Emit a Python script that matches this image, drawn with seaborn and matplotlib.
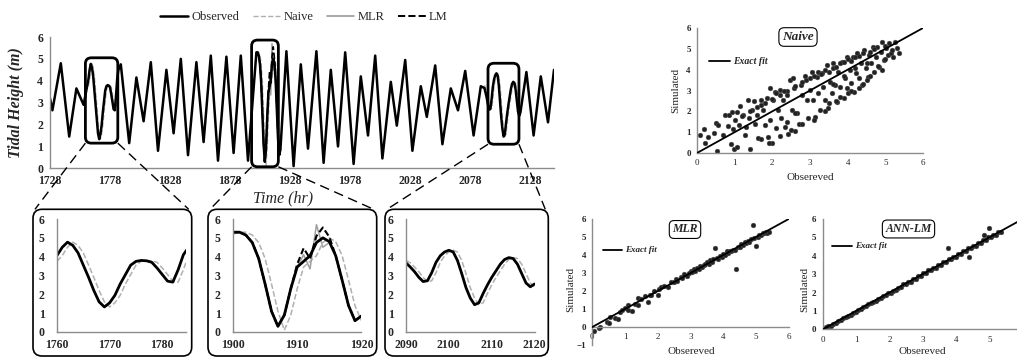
import numpy as np
import pandas as pd
import matplotlib
matplotlib.use("Agg")
import matplotlib.pyplot as plt
import matplotlib.transforms as mtransforms
from matplotlib.patches import FancyBboxPatch
from matplotlib.lines import Line2D
import seaborn as sns

# ---------------- data ----------------
# main series: extrema read from the picture outside the zoom windows
main_time = [1728, 1730, 1737, 1744, 1750, 1756,
             1787, 1794, 1800, 1806, 1812, 1818, 1825, 1831, 1837, 1843, 1850, 1856,
             1862, 1868, 1875, 1881, 1887, 1893,
             1925, 1931, 1937, 1943, 1950, 1956, 1962, 1968, 1974, 1981, 1987, 1993,
             1999, 2005, 2012, 2017, 2024, 2030, 2037, 2042, 2049, 2055, 2062, 2068,
             2074, 2081, 2087,
             2125, 2131, 2137, 2143, 2148]
main_obs = [3.2, 2.65, 4.8, 1.45, 3.65, 2.9,
            4.75, 1.15, 4.15, 2.15, 4.85, 0.8, 4.5, 1.6, 5.0, 0.6, 4.85, 1.2,
            5.15, 0.35, 5.1, 0.7, 5.15, 0.35,
            5.35, 0.1, 4.75, 0.9, 5.35, 0.25, 4.5, 1.0, 5.3, 0.2, 4.2, 1.5,
            5.15, 0.45, 3.95, 1.95, 4.95, 0.8, 3.75, 2.35, 4.7, 1.1, 3.65, 2.65,
            4.45, 1.5, 3.75,
            4.4, 1.5, 4.2, 2.1, 4.5]

# zoom window 1 (hourly)
w1_time = list(range(1760, 1786))
w1_obs = [4.06, 4.5, 4.77, 4.6, 4.2, 3.55, 2.9, 2.2, 1.6, 1.33, 1.55, 1.95, 2.55,
          3.05, 3.55, 3.75, 3.8, 3.78, 3.7, 3.4, 3.05, 2.7, 2.65, 3.3, 4.1, 4.5]
w1_naive = [3.75, 4.06, 4.5, 4.77, 4.6, 4.2, 3.55, 2.9, 2.2, 1.6, 1.33, 1.55, 1.95,
            2.55, 3.05, 3.55, 3.75, 3.8, 3.78, 3.7, 3.4, 3.05, 2.7, 2.65, 3.3, 4.1]

# zoom window 2 (hourly)
w2_time = list(range(1900, 1921))
w2_obs = [5.3, 5.3, 5.15, 4.75, 3.9, 2.55, 1.1, 0.3, 0.9, 2.3, 3.45, 3.75, 4.05,
          4.75, 5.0, 4.8, 4.05, 2.75, 1.4, 0.6, 0.85]
w2_naive = [5.2, 5.3, 5.3, 5.15, 4.75, 3.9, 2.55, 1.1, 0.1, 0.9, 2.3, 3.45, 3.75,
            4.05, 4.75, 5.0, 4.8, 4.05, 2.75, 1.4, 0.6]
w2_mlr = [5.3, 5.3, 5.15, 4.75, 3.9, 2.55, 1.1, 0.3, 0.9, 2.3, 3.45, 4.1, 3.35,
          5.7, 4.5, 4.75, 4.05, 2.75, 1.4, 0.6, 0.85]
w2_lm = [5.3, 5.3, 5.15, 4.75, 3.9, 2.55, 1.1, 0.3, 0.9, 2.3, 3.6, 4.45, 3.9,
         5.1, 5.55, 5.05, 4.05, 2.75, 1.4, 0.6, 0.85]

# zoom window 3 (hourly)
w3_time = list(range(2090, 2121))
w3_obs = [3.67, 3.45, 3.2, 2.9, 2.68, 2.72, 3.15, 3.7, 4.05, 4.25,
          4.34, 4.25, 3.8, 3.1, 2.35, 1.8, 1.45, 1.55, 2.05, 2.5,
          2.9, 3.25, 3.6, 3.85, 3.95, 3.9, 3.6, 3.1, 2.6, 2.4, 2.55]
w3_naive = [3.8, 3.67, 3.45, 3.2, 2.9, 2.68, 2.72, 3.15, 3.7, 4.05,
            4.25, 4.34, 4.25, 3.8, 3.1, 2.35, 1.8, 1.45, 1.55, 2.05,
            2.5, 2.9, 3.25, 3.6, 3.85, 3.95, 3.9, 3.6, 3.1, 2.6, 2.4]

# zoom windows drawn as boxes on the main chart (time range, height range)
box_windows = [((1757.5, 1784.5), (1.15, 5.05)),
               ((1896.0, 1918.3), (0.07, 5.86)),
               ((2093.0, 2118.8), (1.10, 4.80))]

# scatter: (observed, simulated)
naive_points = [
    (0.09, 0.85), (0.19, 1.14), (0.2, 0.48), (0.29, 0.77), (0.44, 0.96), (0.51, 1.45),
    (0.56, 1.33), (0.54, 0.1), (0.69, 0.85), (0.74, 1.82), (0.83, 1.29), (0.85, 1.82),
    (0.89, 0.45), (0.94, 1.98), (0.96, 1.17), (0.98, 0.19), (1.05, 0.29), (1.06, 1.98),
    (1.12, 1.33), (1.14, 2.25), (1.21, 1.82), (1.27, 0.85), (1.31, 1.25), (1.36, 2.54),
    (1.38, 1.66), (1.42, 0.21), (1.47, 2.06), (1.54, 1.38), (1.58, 1.82), (1.63, 0.74),
    (1.69, 2.54), (1.71, 0.69), (1.76, 2.06), (1.8, 1.33), (1.85, 2.62), (1.89, 0.77),
    (1.93, 3.1), (1.95, 1.58), (1.99, 0.48), (2.02, 2.54), (2.07, 2.94), (2.11, 1.21),
    (2.16, 2.06), (2.2, 3.02), (2.24, 1.66), (2.29, 2.54), (2.33, 1.25), (2.38, 2.78),
    (2.42, 0.93), (2.47, 3.5), (2.51, 2.06), (2.56, 3.58), (2.58, 3.1), (2.6, 1.06),
    (2.66, 1.9), (2.72, 1.41), (2.75, 3.26), (2.8, 2.78), (2.87, 3.7), (2.91, 2.54),
    (2.95, 1.66), (3.0, 3.02), (3.04, 3.9), (3.09, 2.54), (3.13, 1.74), (3.18, 3.66),
    (3.22, 2.86), (3.27, 2.06), (3.31, 3.82), (3.35, 3.18), (3.4, 2.54), (3.44, 4.22),
    (3.49, 2.14), (3.53, 3.42), (3.58, 2.86), (3.62, 4.3), (3.66, 3.26), (3.71, 2.46),
    (3.75, 3.9), (3.8, 3.18), (3.84, 4.38), (3.89, 2.62), (3.93, 3.58), (3.98, 4.62),
    (3.99, 3.1), (4.05, 3.98), (4.09, 3.34), (4.13, 4.62), (4.17, 2.94), (4.21, 3.82),
    (4.26, 4.78), (4.3, 3.58), (4.35, 4.3), (4.39, 3.26), (4.44, 4.94), (4.48, 4.06),
    (4.53, 3.66), (4.57, 4.7), (4.61, 4.3), (4.66, 5.1), (4.7, 3.9), (4.75, 4.62),
    (4.79, 5.1), (4.84, 4.14), (4.88, 4.86), (4.92, 5.35), (4.97, 4.46), (5.01, 5.02),
    (5.06, 4.7), (5.1, 5.27), (5.15, 4.78), (5.19, 4.94), (5.26, 5.35), (5.32, 5.02),
    (5.35, 4.78),
    (3.0, 3.6), (3.2, 3.9), (3.4, 4.0), (3.6, 4.1), (3.8, 4.3), (4.0, 4.5), (4.2, 4.6),
    (4.4, 4.8), (3.1, 3.7), (3.3, 3.8), (2.8, 3.4), (2.6, 3.2), (2.4, 3.0), (2.2, 2.8),
    (2.0, 2.6), (1.8, 2.4), (1.6, 2.2), (1.4, 2.0), (1.2, 1.8), (1.0, 1.6), (4.5, 3.5),
    (4.3, 3.1), (4.0, 2.9), (3.7, 2.5), (3.4, 2.0), (3.1, 1.6), (2.8, 1.4), (2.5, 1.1),
    (2.2, 0.8), (1.9, 0.5), (4.8, 4.2), (5.0, 4.5), (5.2, 4.6), (4.6, 3.7), (4.9, 4.0),
    (3.5, 3.9), (3.7, 4.15), (3.9, 4.35), (4.1, 4.4), (4.3, 4.65), (4.6, 4.85),
    (4.7, 5.0), (5.0, 5.15), (2.9, 3.5), (3.6, 3.3), (3.9, 3.7), (4.2, 4.1), (4.5, 4.3),
    (1.5, 2.5), (1.7, 2.3), (2.3, 3.0), (2.1, 2.9), (2.4, 1.5), (2.6, 1.9), (3.5, 2.4),
    (3.8, 2.7), (4.1, 3.0), (4.4, 3.3)]

mlr_points = [
    (0.05, -0.2), (0.2, -0.05), (0.25, 0.0), (0.45, 0.3), (0.5, 0.25), (0.55, 0.55),
    (0.7, 0.5), (0.8, 0.45), (0.85, 0.85), (0.9, 0.95), (1.0, 1.05), (1.1, 1.2),
    (1.1, 0.95), (1.2, 0.9), (1.3, 1.3), (1.4, 1.6), (1.4, 1.25), (1.5, 1.55),
    (1.6, 1.75), (1.7, 1.4), (1.75, 1.8), (1.8, 1.8), (1.9, 2.0), (2.0, 1.8),
    (2.05, 2.1), (2.1, 2.2), (2.2, 2.3), (2.3, 2.25), (2.4, 2.5), (2.5, 2.5),
    (2.55, 2.65), (2.6, 2.55), (2.7, 2.8), (2.75, 2.7), (2.8, 2.95), (2.9, 2.85),
    (2.95, 3.0), (3.0, 3.1), (3.05, 3.05), (3.1, 3.2), (3.15, 3.1), (3.2, 3.3),
    (3.25, 3.2), (3.3, 3.4), (3.35, 3.35), (3.4, 3.45), (3.45, 3.5), (3.5, 3.6),
    (3.55, 3.5), (3.6, 3.7), (3.65, 3.6), (3.7, 3.8), (3.8, 3.85), (3.85, 3.8),
    (3.9, 3.95), (3.95, 3.9), (4.0, 4.05), (4.05, 4.0), (4.1, 4.2), (4.15, 4.1),
    (4.2, 4.25), (4.25, 4.2), (4.3, 4.3), (4.35, 4.3), (4.45, 4.45), (4.5, 4.45),
    (4.55, 4.6), (4.6, 4.55), (4.65, 4.7), (4.7, 4.65), (4.75, 4.8), (4.8, 4.75),
    (4.85, 4.9), (4.95, 4.95), (5.05, 5.0), (5.1, 5.1), (5.15, 5.1), (5.2, 5.2),
    (5.25, 5.2), (5.3, 5.3), (5.35, 5.25), (5.4, 5.3),
    (3.75, 4.4), (4.4, 3.25), (4.9, 5.65), (5.0, 4.5)]

ann_points = [
    (0.1, 0.15), (0.15, 0.2), (0.25, 0.2), (0.3, 0.3), (0.4, 0.35), (0.45, 0.45),
    (0.55, 0.5), (0.6, 0.6), (0.7, 0.65), (0.75, 0.75), (0.85, 0.8), (0.9, 0.9),
    (1.0, 0.95), (1.05, 1.05), (1.15, 1.1), (1.2, 1.2), (1.3, 1.25), (1.35, 1.35),
    (1.45, 1.45), (1.5, 1.5), (1.6, 1.55), (1.65, 1.65), (1.75, 1.7), (1.8, 1.8),
    (1.9, 1.85), (1.95, 1.95), (2.05, 2.0), (2.1, 2.1), (2.2, 2.15), (2.25, 2.25),
    (2.35, 2.3), (2.4, 2.45), (2.5, 2.45), (2.55, 2.6), (2.65, 2.6), (2.7, 2.75),
    (2.8, 2.75), (2.85, 2.9), (2.95, 2.9), (3.0, 3.05), (3.1, 3.05), (3.15, 3.2),
    (3.25, 3.2), (3.3, 3.35), (3.4, 3.35), (3.45, 3.5), (3.55, 3.5), (3.6, 3.65),
    (3.7, 3.65), (3.8, 3.8), (3.85, 3.8), (3.9, 3.95), (4.0, 3.95), (4.05, 4.1),
    (4.15, 4.1), (4.2, 4.25), (4.3, 4.25), (4.35, 4.4), (4.45, 4.4), (4.5, 4.55),
    (4.6, 4.55), (4.65, 4.7), (4.75, 4.7), (4.8, 4.85), (4.9, 4.85), (4.95, 5.0),
    (5.05, 5.0), (5.1, 5.15), (5.2, 5.15), (5.25, 5.3), (5.35, 5.3),
    (3.75, 4.4), (4.4, 3.95), (4.85, 5.15), (5.0, 5.5)]

exact_fit = [0, 6]
main_xticks = list(range(1728, 2148, 50))
height_ticks = list(range(0, 7))

# ---------------- style ----------------
sns.set_style("white")
plt.rcParams['font.family'] = ['Liberation Serif', 'DejaVu Serif']
SPINE = '#8c8c8c'

W, H = 1017, 358
fig = plt.figure(figsize=(W / 100, H / 100), dpi=100)
pix = mtransforms.Affine2D().scale(1 / W, -1 / H).translate(0, 1) + fig.transFigure


def rect(l, t, r, b):
    return [l / W, 1 - b / H, (r - l) / W, (b - t) / H]


def style_axes(ax, fs):
    for s in ['top', 'right']:
        ax.spines[s].set_visible(False)
    for s in ['left', 'bottom']:
        ax.spines[s].set_color(SPINE)
        ax.spines[s].set_linewidth(1.0)
    ax.tick_params(direction='out', length=3, width=0.8, color=SPINE,
                   labelsize=fs, pad=2)
    for lab in ax.get_xticklabels() + ax.get_yticklabels():
        lab.set_fontweight('bold')
    ax.set_xlabel('')
    ax.set_ylabel('')


def line(ax, x, y, **kw):
    sns.lineplot(x=x, y=y, ax=ax, estimator=None, sort=False, **kw)


# ---------------- main time series ----------------
ax = fig.add_axes(rect(50, 37, 554, 168.3))
full = sorted(list(zip(main_time, main_obs)) + list(zip(w1_time, w1_obs)) +
              list(zip(w2_time, w2_obs)) + list(zip(w3_time, w3_obs)))
ft = [p[0] for p in full]
fo = [p[1] for p in full]
for wt, wn in [(w1_time, w1_naive), (w2_time, w2_naive), (w3_time, w3_naive)]:
    line(ax, wt, wn, color='#b5b5b5', lw=1.0, ls='--')
line(ax, w2_time, w2_mlr, color='#9a9a9a', lw=1.0)
line(ax, w2_time, w2_lm, color='black', lw=1.2, ls='--')
line(ax, ft, fo, color='black', lw=1.8)
ax.set_xlim(1728, 2148)
ax.set_ylim(0, 6)
ax.set_xticks(main_xticks)
ax.set_yticks(height_ticks)
style_axes(ax, 8.5)

fig.text(16 / W, 1 - 103 / H, 'Tidal Height (m)', rotation=90, ha='center', va='center',
         fontsize=11.5, fontstyle='italic', fontweight='bold')
fig.text(283 / W, 1 - 198 / H, 'Time (hr)', ha='center', va='center',
         fontsize=11.5, fontstyle='italic')

handles = [Line2D([], [], color='black', lw=1.8),
           Line2D([], [], color='#b0b0b0', lw=1.0, ls='--'),
           Line2D([], [], color='#9a9a9a', lw=1.2),
           Line2D([], [], color='black', lw=1.4, ls='--')]
fig.legend(handles, ['Observed', 'Naive', 'MLR', 'LM'], loc='center',
           bbox_to_anchor=(304 / W, 1 - 17 / H), ncol=4, frameon=False,
           fontsize=9, handlelength=2.2, handletextpad=0.25, columnspacing=1.1,
           borderpad=0, borderaxespad=0)

# boxes around zoom windows in the main chart
box_pix = []
for (x0, x1), (y0, y1) in box_windows:
    a = ax.transData.transform((x0, y1))
    b = ax.transData.transform((x1, y0))
    px0, py0 = a[0], H - a[1]
    px1, py1 = b[0], H - b[1]
    box_pix.append((px0, py0, px1, py1))
    fig.add_artist(FancyBboxPatch((px0, py0), px1 - px0, py1 - py0,
                                  boxstyle='round,pad=0,rounding_size=6',
                                  transform=pix, fill=False, ec='black', lw=2.0,
                                  zorder=5))

# ---------------- zoomed panels ----------------
frames = [(33, 209.3, 191.7, 356), (208, 209.3, 376.7, 356), (385, 209.3, 548.3, 356)]
inset_rects = [(57, 219, 186, 332), (233, 219, 361.4, 332), (406, 219, 534.6, 332)]
inset_lims = [(1760, 1784.5), (1900, 1920), (2090, 2120)]
inset_ticks = [[1760, 1770, 1780], [1900, 1910, 1920], [2090, 2100, 2110, 2120]]
inset_series = [(w1_time, w1_obs, w1_naive, None, None),
                (w2_time, w2_obs, w2_naive, w2_mlr, w2_lm),
                (w3_time, w3_obs, w3_naive, None, None)]

for i in range(3):
    fx0, fy0, fx1, fy1 = frames[i]
    fig.add_artist(FancyBboxPatch((fx0, fy0), fx1 - fx0, fy1 - fy0,
                                  boxstyle='round,pad=0,rounding_size=9',
                                  transform=pix, fill=False, ec='black', lw=1.2))
    bx0, by0, bx1, by1 = box_pix[i]
    for (sx, sy), (ex, ey) in [((bx0, by1), (fx0 + 2, fy0)), ((bx1, by1), (fx1 - 3, fy0))]:
        fig.add_artist(Line2D([sx, ex], [sy, ey], transform=pix, color='black',
                              lw=1.0, ls=(0, (7, 4))))
    iax = fig.add_axes(rect(*inset_rects[i]))
    t, o, n, m, l = inset_series[i]
    line(iax, t, n, color='#b0b0b0', lw=1.1, ls='--')
    if m is not None:
        line(iax, t, m, color='#a0a0a0', lw=1.1)
        line(iax, t, l, color='black', lw=1.5, ls=(0, (3, 1.5)))
    line(iax, t, o, color='black', lw=2.0)
    iax.set_xlim(*inset_lims[i])
    iax.set_ylim(0, 6)
    iax.set_xticks(inset_ticks[i])
    iax.set_yticks(height_ticks)
    style_axes(iax, 8.5)
    iax.tick_params(axis='y', pad=6)


# ---------------- scatter panels ----------------
def scatter_panel(r, pts, ylim, xticks, title, title_xy, leg_xy, ylab_xy, xlab_xy,
                  ms, fs_title, fs_leg):
    sax = fig.add_axes(rect(*r))
    df = pd.DataFrame(pts, columns=['Observed', 'Simulated'])
    sns.scatterplot(data=df, x='Observed', y='Simulated', ax=sax, s=ms,
                    color='#222222', edgecolor='#555555', linewidth=0.3, zorder=2)
    line(sax, exact_fit, exact_fit, color='black', lw=1.3, zorder=3)
    sax.set_xlim(0, 6)
    sax.set_ylim(*ylim)
    sax.set_xticks(xticks)
    sax.set_yticks(list(range(int(ylim[0]), 7)))
    style_axes(sax, 6.5)
    sax.spines['bottom'].set_position(('data', 0))
    sax.tick_params(length=2.5)
    fig.text(title_xy[0] / W, 1 - title_xy[1] / H, title, ha='center', va='center',
             fontsize=fs_title, fontstyle='italic', fontweight='bold',
             bbox=dict(boxstyle='round,pad=0.25,rounding_size=0.4', fc='white',
                       ec='black', lw=0.8))
    lx0, lx1, ly = leg_xy
    fig.add_artist(Line2D([lx0, lx1], [ly, ly], transform=pix, color='black', lw=1.3))
    fig.text((lx1 + 3) / W, 1 - ly / H, 'Exact fit', ha='left', va='center',
             fontsize=fs_leg, fontstyle='italic', fontweight='bold')
    fig.text(ylab_xy[0] / W, 1 - ylab_xy[1] / H, 'Simulated', rotation=90,
             ha='center', va='center', fontsize=8)
    fig.text(xlab_xy[0] / W, 1 - xlab_xy[1] / H, 'Obsereved', ha='center',
             va='center', fontsize=8)
    return sax


scatter_panel((697, 28, 923, 153), naive_points, (0, 6), height_ticks, 'Naive',
              (798, 37), (709, 730, 61), (676, 90), (810, 178), 12, 9.5, 7)
scatter_panel((592.3, 219, 788.7, 345), mlr_points, (-1, 6), height_ticks, 'MLR',
              (685, 229.5), (603, 622, 250), (571, 289), (691, 352), 12, 8.5, 6.5)
scatter_panel((822.7, 219, 1022.7, 329.3), ann_points, (0, 6), height_ticks[:-1],
              'ANN-LM', (908.5, 229), (832, 852, 246), (805, 289), (922, 352),
              12, 8.5, 6.5)

fig.savefig('out.png', dpi=100)
